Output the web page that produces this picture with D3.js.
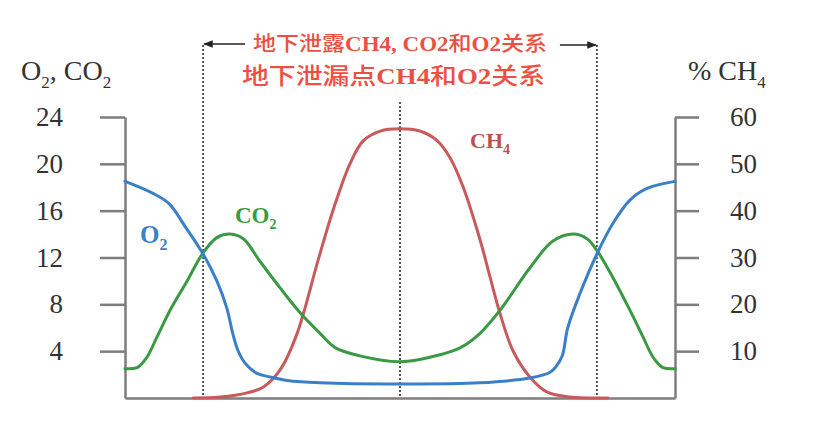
<!DOCTYPE html>
<html>
<head>
<meta charset="utf-8">
<script src="https://cdn.jsdelivr.net/npm/d3@7"></script>
<style>
  html, body { margin: 0; padding: 0; background: #fff; }
  svg { display: block; }
</style>
</head>
<body>
<svg id="chart" width="814" height="427"></svg>
<script>
// distance across the leak (0..100)
var o2X   = [0, 5, 8, 11, 14.2, 16.7, 18.5, 19.6, 20.5, 21.8, 24, 26.4, 29.5, 35.5, 50, 64.5, 73.6, 77.3, 78.4, 79.5, 80.5, 82.7, 85.8, 88.7, 91.8, 94.9, 100];
var o2Y   = [18.5, 17.5, 16.6, 14.6, 12.3, 10.0, 7.7, 5.5, 4.1, 3.0, 2.1, 1.8, 1.5, 1.3, 1.2, 1.3, 1.7, 2.2, 2.7, 3.6, 6.0, 8.9, 12.3, 14.9, 16.9, 17.9, 18.5];

var co2X  = [0, 2.2, 4, 5.8, 8.2, 11.3, 14.2, 16.7, 19.1, 21.5, 24.5, 28.2, 31.8, 35.5, 38.2, 42.7, 50, 57.3, 61, 64.5, 68.2, 73.6, 77.8, 81.5, 84, 85.8, 88.7, 91.8, 94.2, 96, 97.8, 100];
var co2Y  = [2.5, 2.6, 3.5, 5.2, 7.5, 10.0, 12.4, 13.7, 14.0, 13.6, 11.7, 9.4, 7.3, 5.5, 4.3, 3.6, 3.1, 3.7, 4.3, 5.5, 7.5, 11.1, 13.4, 14.0, 13.6, 12.6, 10.3, 7.5, 5.2, 3.5, 2.6, 2.5];

var ch4X  = [12.4, 17.3, 22.2, 25.1, 28.2, 31.3, 35.1, 37.8, 40.9, 43.3, 46.4, 50, 53.6, 56.7, 59.1, 61.5, 64.5, 66.4, 68.2, 70.5, 73.6, 76.7, 80.9, 87.8];
var ch4Y  = [0, 0.2, 1.1, 2.3, 6, 13.8, 29.4, 40, 50, 54.9, 57, 57.5, 57, 55, 51.3, 45, 34, 25.7, 18, 10.2, 4.5, 1.3, 0.2, 0];

var leftTicks  = [4, 8, 12, 16, 20, 24];
var rightTicks = [10, 20, 30, 40, 50, 60];
var markers    = [14.2, 50, 85.8];   // dotted guide lines

var title1 = [["地下泄露", false], ["CH4, CO2", true], ["和", false], ["O2", true], ["关系", false]];
var title2 = [["地下泄漏点", false], ["CH4", true], ["和", false], ["O2", true], ["关系", false]];

var svg = d3.select("#chart");

var x  = d3.scaleLinear().domain([0, 100]).range([125, 675]);
var yL = d3.scaleLinear().domain([0, 24]).range([398, 117]);
var yR = d3.scaleLinear().domain([0, 60]).range([398, 117]);

var axisColor = "#7d7d7d";
var serif = "'Liberation Serif', 'Times New Roman', serif";

// axes
var gL = svg.append("g").attr("transform", "translate(" + x(0) + ",0)")
  .call(d3.axisLeft(yL).tickValues(leftTicks).tickSize(25).tickSizeOuter(0).tickPadding(37));
var gR = svg.append("g").attr("transform", "translate(" + x(100) + ",0)")
  .call(d3.axisRight(yR).tickValues(rightTicks).tickSize(24).tickSizeOuter(0).tickPadding(31));
var gB = svg.append("g").attr("transform", "translate(0," + yL(0) + ")")
  .call(d3.axisBottom(x).tickValues([]).tickSizeOuter(0));
[gL, gR, gB].forEach(function (g) {
  g.selectAll("path, line").attr("stroke", axisColor).attr("stroke-width", 2.5);
  g.attr("font-family", serif).attr("font-size", 27);
  g.selectAll("text").attr("fill", "#333").attr("font-size", 27);
});

// dotted guides
svg.selectAll("line.guide").data(markers).enter().append("line")
  .attr("class", "guide")
  .attr("x1", function (d) { return x(d); }).attr("x2", function (d) { return x(d); })
  .attr("y1", function (d, i) { return i === 1 ? 102 : 45; })
  .attr("y2", yL(0))
  .attr("stroke", "#444").attr("stroke-width", 1.8).attr("stroke-dasharray", "2,2");

// arrows
var defs = svg.append("defs");
defs.append("marker").attr("id", "arr").attr("viewBox", "0 0 10 10")
  .attr("refX", 9).attr("refY", 5).attr("markerWidth", 6).attr("markerHeight", 6)
  .attr("orient", "auto")
  .append("path").attr("d", "M0,1L10,5L0,9Z").attr("fill", "#222");
svg.append("line").attr("x1", x(markers[0]) + 42).attr("x2", x(markers[0]) + 1)
  .attr("y1", 44).attr("y2", 44).attr("stroke", "#222").attr("stroke-width", 1.6)
  .attr("marker-end", "url(#arr)");
svg.append("line").attr("x1", x(markers[2]) - 37).attr("x2", x(markers[2]) - 1)
  .attr("y1", 45).attr("y2", 45).attr("stroke", "#222").attr("stroke-width", 1.6)
  .attr("marker-end", "url(#arr)");

// curves
function drawLine(xs, ys, yScale, color) {
  var pts = xs.map(function (d, i) { return [d, ys[i]]; });
  svg.append("path").datum(pts)
    .attr("fill", "none").attr("stroke", color).attr("stroke-width", 3)
    .attr("stroke-linejoin", "round").attr("stroke-linecap", "round")
    .attr("d", d3.line().curve(d3.curveCatmullRom.alpha(0.5))
      .x(function (d) { return x(d[0]); })
      .y(function (d) { return yScale(d[1]); })(pts));
}
drawLine(ch4X, ch4Y, yR, "#c95a5c");
drawLine(co2X, co2Y, yL, "#3a9a44");
drawLine(o2X, o2Y, yL, "#3a80c9");

// chemical formula text with subscripts
function chem(px, py, parts, size, color, weight) {
  var t = svg.append("text").attr("x", px).attr("y", py)
    .attr("font-family", serif).attr("font-size", size)
    .attr("fill", color).attr("font-weight", weight || "normal");
  var down = Math.round(size * 0.28), shift = 0;
  parts.forEach(function (p) {
    var s = t.append("tspan").text(p[0]);
    if (p[1]) {
      s.attr("dy", down - shift).attr("font-size", Math.round(size * 0.62));
      shift = down;
    } else {
      if (shift) s.attr("dy", -shift);
      shift = 0;
      s.attr("font-size", size);
    }
  });
  return t;
}

chem(21, 80, [["O", 0], ["2", 1], [", CO", 0], ["2", 1]], 28, "#333");
chem(688, 80, [["% CH", 0], ["4", 1]], 28, "#333");

chem(140, 243, [["O", 0], ["2", 1]], 25, "#3a80c9", "bold");
chem(235, 223, [["CO", 0], ["2", 1]], 23, "#3a9a44", "bold");
chem(470, 148, [["CH", 0], ["4", 1]], 22, "#c0504d", "bold");

// red headings
function heading(px, py, segs, size, width) {
  var t = svg.append("text").attr("x", px).attr("y", py)
    .attr("font-size", size).attr("fill", "#ee4f43")
    .attr("textLength", width).attr("lengthAdjust", "spacingAndGlyphs");
  segs.forEach(function (s) {
    t.append("tspan")
      .attr("font-family", s[1] ? serif : "'Noto Sans CJK SC', sans-serif")
      .attr("font-weight", s[1] ? "bold" : "500")
      .attr("font-size", size)
      .text(s[0]);
  });
}
heading(253, 51, title1, 20, 294);
heading(242, 84, title2, 23, 303);
</script>
</body>
</html>
